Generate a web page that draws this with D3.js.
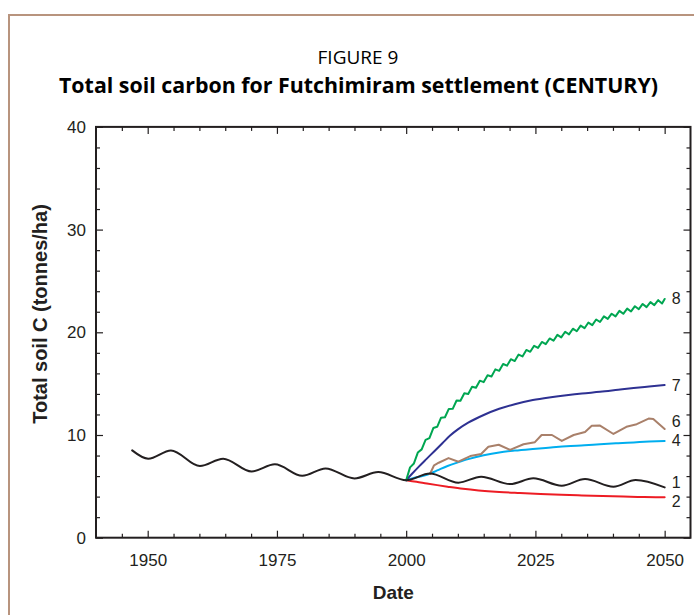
<!DOCTYPE html>
<html><head><meta charset="utf-8">
<script src="https://cdn.jsdelivr.net/npm/d3@7"></script>
<style>html,body{margin:0;padding:0;background:#fff;} svg{display:block}</style>
</head><body>
<svg id="c" width="694" height="615"></svg>
<script>
// ---- data ----
const titleSmall = "FIGURE 9";
const titleBold = "Total soil carbon for Futchimiram settlement (CENTURY)";
const xLabel = "Date";
const yLabel = "Total soil C (tonnes/ha)";
const xDomain = [1940, 2055];
const yDomain = [0, 40];
const xMajorTicks = [1950, 1975, 2000, 2025, 2050];
const xMinorTicks = [1945, 1955, 1960, 1965, 1970, 1980, 1985, 1990, 1995, 2005, 2010, 2015, 2020, 2030, 2035, 2040, 2045];
const yMajorTicks = [0, 10, 20, 30, 40];
const yMinorTicks = [2, 4, 6, 8, 12, 14, 16, 18, 22, 24, 26, 28, 32, 34, 36, 38];

// series 1 (black): historic run and baseline projection
const series1 = [[1947,8.5],[1950.1,7.69],[1954.5,8.5],[1960.1,6.98],[1964.6,7.69],[1970.1,6.45],[1974.6,7.14],[1979.9,6.03],[1984.4,6.75],[1990,5.77],[1994.6,6.39],[2000,5.6],
  [2004.6,6.25],[2010.1,5.36],[2014.5,5.94],[2020.1,5.22],[2024.6,5.78],[2030.1,5.06],[2034.6,5.71],[2040.1,4.97],[2044.4,5.62],[2050,4.9]];
// series 2 (red)
const series2 = [[2000,5.6],[2002,5.45],[2004,5.28],[2006,5.12],[2008,4.97],[2011,4.76],[2014,4.6],[2018,4.45],[2022,4.35],[2026,4.26],[2030,4.18],[2034,4.11],[2038,4.05],[2042,4.0],[2046,3.96],[2050,3.93]];
// series 4 (light blue)
const series4 = [[2000,5.6],[2002,5.88],[2004,6.12],[2006,6.55],[2008,6.98],[2010,7.33],[2012,7.65],[2015,8.02],[2018,8.3],[2021,8.48],[2024.5,8.64],[2028,8.78],[2031,8.9],[2034.5,9.0],[2037.5,9.1],[2041,9.2],[2044,9.28],[2047,9.36],[2050,9.42]];
// series 6 (brown)
const series6 = [[2004.6,6.2],[2005.4,7.05],[2006.3,7.3],[2008.2,7.75],[2010.1,7.4],[2012.4,7.95],[2014.5,8.15],[2015.9,8.85],[2017.9,9.05],[2020.1,8.55],[2022.7,9.1],[2024.9,9.3],[2026.2,10.0],[2028.2,10.0],[2030.1,9.42],[2032.4,10.0],[2034.6,10.3],[2035.9,10.9],[2037.5,10.92],[2040.1,10.1],[2042.6,10.8],[2044.6,11.05],[2046.9,11.6],[2047.8,11.55],[2050,10.58]];
// series 7 (dark blue)
const series7 = [[2000,5.6],[2001,6.15],[2002.5,6.95],[2004,7.7],[2005.5,8.45],[2007,9.2],[2008.5,9.95],[2010,10.55],[2012,11.2],[2015,11.95],[2018,12.55],[2021,13.0],[2024.5,13.4],[2028,13.68],[2031,13.88],[2034,14.05],[2037.5,14.2],[2041,14.4],[2044,14.57],[2047,14.72],[2050,14.87]];
// series 8 (green)
const series8 = [[2000,5.6],[2000.75,6.85],[2001.5,7.23],[2002.25,8.29],[2003,8.6],[2003.75,9.53],[2004.5,9.7],[2005.25,10.68],[2006,10.8],[2006.75,11.69],[2007.5,11.73],[2008.25,12.54],[2009,12.55],[2009.75,13.36],[2010.5,13.33],[2011.25,14.06],[2012,14.0],[2012.75,14.7],[2013.5,14.6],[2014.25,15.29],[2015,15.15],[2015.75,15.81],[2016.5,15.7],[2017.25,16.39],[2018,16.25],[2018.75,16.91],[2019.5,16.75],[2020.25,17.38],[2021,17.2],[2021.75,17.83],[2022.5,17.65],[2023.25,18.28],[2024,18.1],[2024.75,18.69],[2025.5,18.48],[2026.25,19.06],[2027,18.85],[2027.75,19.4],[2028.5,19.18],[2029.25,19.75],[2030,19.5],[2030.75,20.05],[2031.5,19.8],[2032.25,20.35],[2033,20.1],[2033.75,20.65],[2034.5,20.4],[2035.25,20.95],[2036,20.7],[2036.75,21.25],[2037.5,21.0],[2038.25,21.55],[2039,21.3],[2039.75,21.81],[2040.5,21.55],[2041.25,22.09],[2042,21.8],[2042.75,22.31],[2043.5,22.03],[2044.25,22.54],[2045,22.25],[2045.75,22.76],[2046.5,22.45],[2047.25,22.94],[2048,22.65],[2048.75,23.13],[2049.5,22.8],[2050,23.25]];

const seriesNames = ["2", "4", "6", "7", "8", "1"];
const seriesData = [series2, series4, series6, series7, series8, series1];
const seriesColors = ["#ed1c24", "#00aeef", "#a9806a", "#2e3192", "#00a651", "#231f20"];
const seriesCurves = ["monotone", "monotone", "linear", "monotone", "linear", "monotone"];
// end labels: name and the value level where each label sits
const endLabelNames = ["8", "7", "6", "4", "1", "2"];
const endLabelValues = [23.3, 14.85, 11.36, 9.45, 5.38, 3.55];
const endLabelYear = 2050;

// ---- drawing ----
const svg = d3.select("#c");
const ink = "#231f20";
const plot = {left: 96, right: 690.5, top: 126.9, bottom: 537.7};
const x = d3.scaleLinear().domain(xDomain).range([plot.left, plot.right]);
const y = d3.scaleLinear().domain(yDomain).range([plot.bottom, plot.top]);

// outer frame (tan)
svg.append("path").attr("d", "M9,620 L9,15 L700,15")
  .attr("fill", "none").attr("stroke", "#b8947e").attr("stroke-width", 2);

// titles
svg.append("text").attr("x", 358).attr("y", 64).attr("text-anchor", "middle")
  .attr("font-family", "'Open Sans', sans-serif").attr("font-size", 19).attr("fill", "#000")
  .text(titleSmall);
svg.append("text").attr("x", 358.5).attr("y", 92.5).attr("text-anchor", "middle")
  .attr("font-family", "'Open Sans', sans-serif").attr("font-weight", "bold").attr("font-size", 21).attr("fill", "#000")
  .attr("textLength", 599).attr("lengthAdjust", "spacingAndGlyphs")
  .text(titleBold);

const axFont = "'Liberation Sans', Arial, sans-serif";
function styleAxis(g) {
  g.select(".domain").remove();
  g.selectAll(".tick line").attr("stroke", ink).attr("stroke-width", 1.2);
  g.selectAll(".tick text").attr("font-family", axFont).attr("font-size", 17).attr("fill", ink);
}
// bottom
svg.append("g").attr("transform", `translate(0,${plot.bottom})`)
  .call(d3.axisBottom(x).tickValues(xMinorTicks).tickSizeInner(-4).tickSizeOuter(0).tickFormat(""))
  .call(styleAxis);
svg.append("g").attr("transform", `translate(0,${plot.bottom})`)
  .call(d3.axisBottom(x).tickValues(xMajorTicks).tickSizeInner(-7).tickSizeOuter(0).tickPadding(16).tickFormat(d3.format("d")))
  .call(styleAxis);
// top
svg.append("g").attr("transform", `translate(0,${plot.top})`)
  .call(d3.axisTop(x).tickValues(xMinorTicks).tickSizeInner(-4).tickSizeOuter(0).tickFormat(""))
  .call(styleAxis);
svg.append("g").attr("transform", `translate(0,${plot.top})`)
  .call(d3.axisTop(x).tickValues(xMajorTicks).tickSizeInner(-7).tickSizeOuter(0).tickFormat(""))
  .call(styleAxis);
// left
svg.append("g").attr("transform", `translate(${plot.left},0)`)
  .call(d3.axisLeft(y).tickValues(yMinorTicks).tickSizeInner(-4).tickSizeOuter(0).tickFormat(""))
  .call(styleAxis);
svg.append("g").attr("transform", `translate(${plot.left},0)`)
  .call(d3.axisLeft(y).tickValues(yMajorTicks).tickSizeInner(-7).tickSizeOuter(0).tickPadding(10).tickFormat(d3.format("d")))
  .call(styleAxis);
// right
svg.append("g").attr("transform", `translate(${plot.right},0)`)
  .call(d3.axisRight(y).tickValues(yMinorTicks).tickSizeInner(-4).tickSizeOuter(0).tickFormat(""))
  .call(styleAxis);
svg.append("g").attr("transform", `translate(${plot.right},0)`)
  .call(d3.axisRight(y).tickValues(yMajorTicks).tickSizeInner(-7).tickSizeOuter(0).tickFormat(""))
  .call(styleAxis);

// plot box
svg.append("rect").attr("x", plot.left).attr("y", plot.top)
  .attr("width", plot.right - plot.left).attr("height", plot.bottom - plot.top)
  .attr("fill", "none").attr("stroke", ink).attr("stroke-width", 2);

// axis titles
svg.append("text").attr("x", (plot.left + plot.right) / 2).attr("y", 599).attr("text-anchor", "middle")
  .attr("font-family", axFont).attr("font-weight", "bold").attr("font-size", 19).attr("fill", ink)
  .text(xLabel);
svg.append("text").attr("transform", "translate(47,314) rotate(-90)").attr("text-anchor", "middle")
  .attr("font-family", axFont).attr("font-weight", "bold").attr("font-size", 20).attr("fill", ink)
  .text(yLabel);

// series lines
const gLines = svg.append("g");
seriesData.forEach((data, i) => {
  const line = d3.line().x(d => x(d[0])).y(d => y(d[1]))
    .curve(seriesCurves[i] === "monotone" ? d3.curveMonotoneX : d3.curveLinear);
  gLines.append("path").datum(data).attr("d", line)
    .attr("fill", "none").attr("stroke", seriesColors[i]).attr("stroke-width", 2)
    .attr("stroke-linejoin", "round").attr("stroke-linecap", "round");
});

// end labels
endLabelNames.forEach((n, i) => {
  svg.append("text").attr("x", x(endLabelYear) + 7).attr("y", y(endLabelValues[i])).attr("dy", "0.36em")
    .attr("font-family", axFont).attr("font-size", 16).attr("fill", ink).text(n);
});
</script></body></html>
